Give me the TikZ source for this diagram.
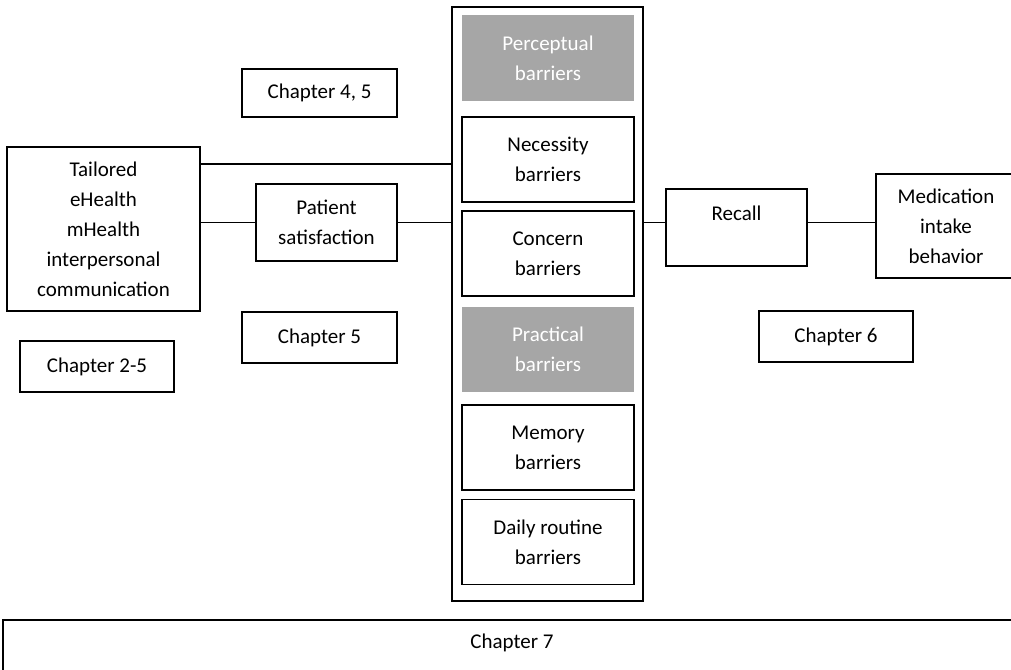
\documentclass[tikz,border=0pt]{standalone}
\usepackage{fontspec}
\setmainfont{Carlito}
\usepackage{xcolor}
\definecolor{barriergray}{HTML}{A6A6A6}
\def\barrierx{548}
\def\lw{1.9pt}

\begin{document}
\begin{tikzpicture}[x=1pt,y=-1pt,
    txt/.style={font=\fontsize{21}{30}\selectfont, align=center, inner sep=0pt},
    box/.style={txt, draw, line width=\lw},
    gbox/.style={txt, fill=barriergray, text=white},
    lnk/.style={line width=\lw}]
      \useasboundingbox (0,0) rectangle (1011,669);
      \clip (0,0) rectangle (1011,669);

      % left side
      \node[box, minimum width=193, minimum height=164] (tailored) at (103.5,229)
        {Tailored\\eHealth\\mHealth\\interpersonal\\communication};
      \node[box, minimum width=154, minimum height=51] (ch25) at (97,366.5) {Chapter 2-5};
      \node[box, minimum width=155, minimum height=48] (ch45) at (319.5,93) {Chapter 4, 5};
      \node[box, minimum width=141, minimum height=77] (patient) at (326.5,222.5) {Patient\\satisfaction};
      \node[box, minimum width=155, minimum height=51] (ch5) at (319.5,337.5) {Chapter 5};

      % barriers column
      \node[draw, line width=\lw, minimum width=191, minimum height=594] (outer) at (547.5,304) {};
      \foreach \nm/\yc/\lbl/\sty in {perc/58/Perceptual\\barriers/gbox,
                                    nec/159.5/Necessity\\barriers/box,
                                    con/253.5/Concern\\barriers/box,
                                    prac/349/Practical\\barriers/gbox,
                                    mem/447.5/Memory\\barriers/box,
                                    daily/542/Daily routine\\barriers/box} {
        \node[\sty, minimum width=172, minimum height=85] (\nm) at (\barrierx,\yc) {\lbl};
      }

      % right side
      \node[box, minimum width=141, minimum height=77] (recall) at (736.5,227.5) {Recall\\[-10pt]\strut};
      \node[box, minimum width=140, minimum height=104] (med) at (946,226) {Medication\\intake\\behavior};
      \node[box, minimum width=154, minimum height=51] (ch6) at (836,336.5) {Chapter 6};

      \draw[lnk] (3,620) rectangle (1030,700);
      \node[txt] (ch7) at (512,643) {Chapter 7};

      % connectors
      \draw[lnk] (tailored.east |- 0,164) -- (outer.west |- 0,164);
      \draw[lnk] (tailored.east |- patient.west) -- (patient.west);
      \draw[lnk] (patient.east) -- (outer.west |- patient.east);
      \draw[lnk] (outer.east |- patient.east) -- (recall.west |- patient.east);
      \draw[lnk] (recall.east |- patient.east) -- (med.west |- patient.east);
    \end{tikzpicture}
\end{document}
